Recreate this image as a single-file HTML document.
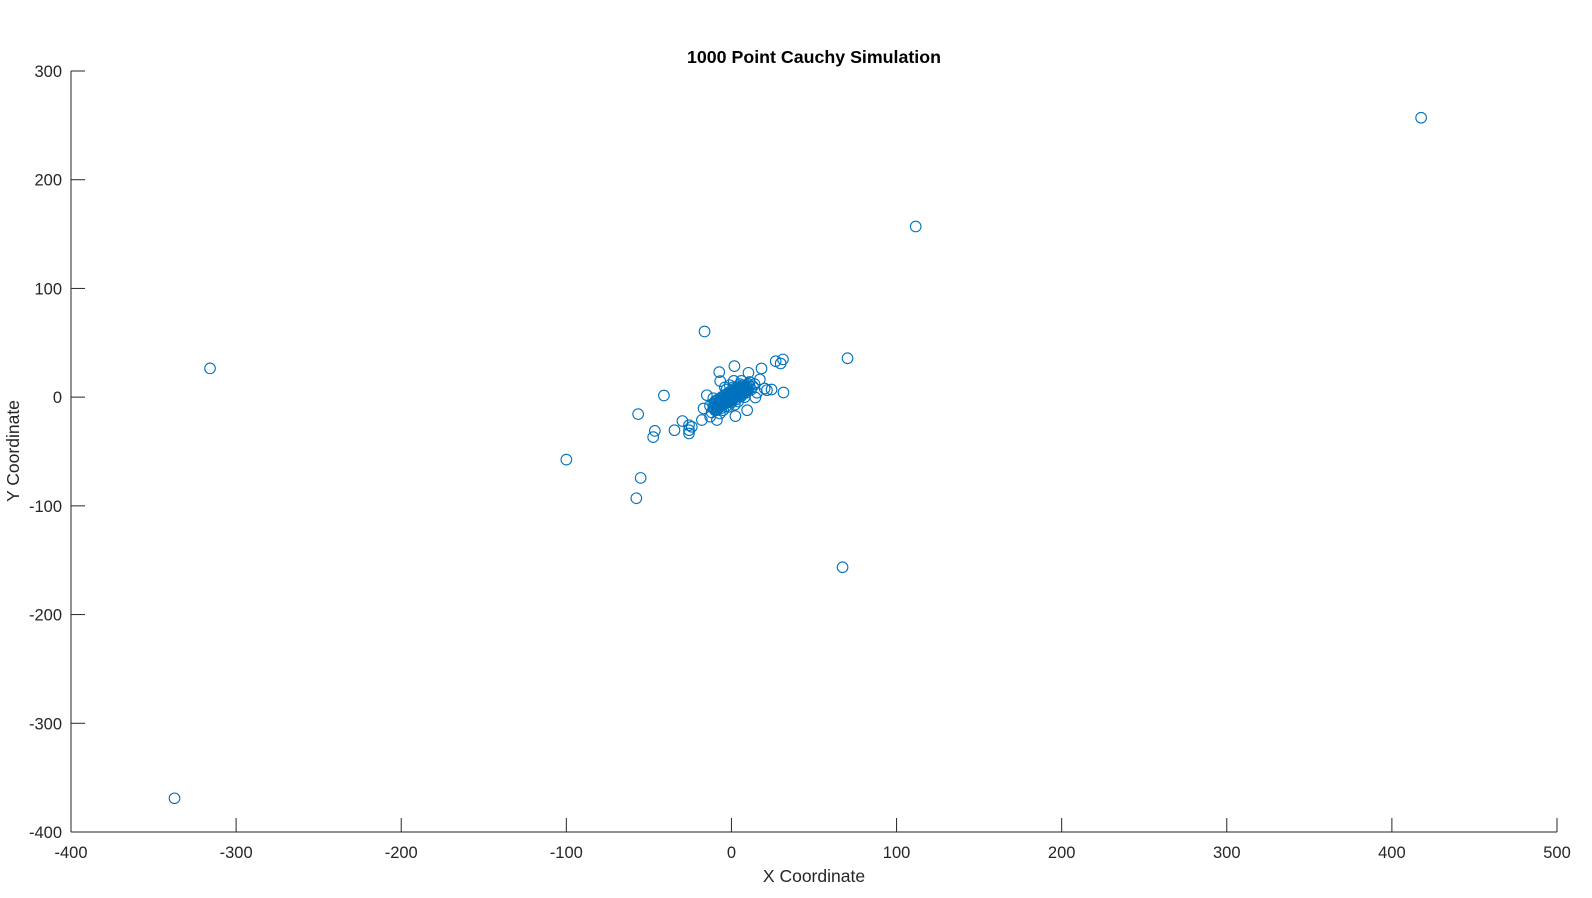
<!DOCTYPE html>
<html><head><meta charset="utf-8"><style>
html,body{margin:0;padding:0;background:#fff;}
svg{display:block;font-family:"Liberation Sans",Arial,sans-serif;}
</style></head><body>
<svg id="chart" width="1592" height="898" viewBox="0 0 1592 898">
<rect width="1592" height="898" fill="#fff"/>
<text x="814" y="63" text-anchor="middle" font-size="17.8" font-weight="bold" fill="#000">1000 Point Cauchy Simulation</text>
<text x="814" y="882" text-anchor="middle" font-size="17.5" fill="#262626">X Coordinate</text>
<text x="0" y="0" transform="translate(19,451) rotate(-90)" text-anchor="middle" font-size="17.5" fill="#262626">Y Coordinate</text>
<g id="axes"></g>
<g id="points"></g>
</svg>
<script>
const xTicks = [-400,-300,-200,-100,0,100,200,300,400,500];
const yTicks = [-400,-300,-200,-100,0,100,200,300];
const xs = [417.7,111.6,-315.8,-337.3,-100,67.3,-57.6,-55,70.3,-16.3,31.2,26.8,29.8,1.8,18.2,-7.4,10.3,-6.8,1.4,17.2,20.1,24.3,31.5,14.5,9.5,2.4,-40.9,-56.5,-46.4,-47.4,-34.5,-29.7,-25.7,-25.7,-25.7,-24,-17.9,-14.9,-16.9,-8.8,-12.9,15.5,21.5,
-11,-10,-9,-8,-7,-7,-6,-5,-5,-4,-4,-3,-3,-2,-2,-1,-1,0,0,1,1,2,2,3,3,4,4,5,5,6,6,7,7,8,8,9,10,11,-8,-6,-4,-2,0,2,4,-9,-6,-3,0,3,6,9,12,-12,-10,1,5,7,10,13,-5,-2,4,-1,-3,-11,-13,11,14,-7,2,8,-4,6,
-10,-8,-6,-4,-2,0,2,4,6,8,-9,-7,-5,-3,-1,1,3,5,7,9,-8,-6,-4,-2,0,2,4,6,-7,-5,-3,-1,1,3,5,7,-10,-8,-3,-1,1,3,5,7,9,10,-11,-9];
const ys = [257,157,26.5,-369,-57.5,-156.5,-93,-74.3,35.8,60.4,34.7,33,31,28.5,26.4,23,22.4,14.7,15,16.3,8,7,4.3,-0.3,-12,-17.5,1.5,-15.6,-31,-36.8,-30.4,-22,-25.8,-30.4,-33.4,-27.3,-21,1.8,-10.4,-21,-18,4,6.4,
-10,-8,-9,-6,-7,-4,-5,-3,-6,-2,-4,-1,-3,0,-2,1,-1,2,0,3,1,4,2,5,3,6,4,7,5,8,6,9,7,10,8,11,12,10,-2,0,2,4,6,8,10,-12,-10,-8,-5,-2,1,4,7,-14,-4,9,12,3,6,10,-12,-9,-4,11,7,-1,-8,14,12,-15,-7,0,9,15,
-6,-5,-3,-1,1,3,4,6,7,9,-11,-9,-7,-5,-3,-1,1,3,5,7,-8,-7,-4,-3,-1,1,2,4,-2,0,2,4,5,7,9,11,-12,-10,-5,-4,-2,0,2,4,6,9,-6,-3];

const L=71,R=1557,T=71,B=832;
const xMin=-400,xMax=500,yMin=-400,yMax=300;
function sx(v){return L+(v-xMin)/(xMax-xMin)*(R-L);}
function sy(v){return B-(v-yMin)/(yMax-yMin)*(B-T);}
const NS='http://www.w3.org/2000/svg';
const axes=document.getElementById('axes');
function mk(tag,attrs,parent){const e=document.createElementNS(NS,tag);for(const k in attrs)e.setAttribute(k,attrs[k]);parent.appendChild(e);return e;}
const xl=mk('line',{x1:L,y1:B,x2:R,y2:B,stroke:'#262626','stroke-width':1},axes);


const yl=mk('line',{x1:L,y1:T,x2:L,y2:B,stroke:'#262626','stroke-width':1},axes);


xTicks.forEach(v=>{
  const t=mk('line',{x1:sx(v),y1:B,x2:sx(v),y2:B-14,stroke:'#262626','stroke-width':1},axes);
  
  
  const lb=mk('text',{x:sx(v),y:B+26,'text-anchor':'middle','font-size':16.5,fill:'#262626'},axes);
  lb.textContent=v;
  
  
});
yTicks.forEach(v=>{
  const t=mk('line',{x1:L,y1:sy(v),x2:L+14,y2:sy(v),stroke:'#262626','stroke-width':1},axes);
  
  
  const lb=mk('text',{x:L-9,y:sy(v)+6,'text-anchor':'end','font-size':16.5,fill:'#262626'},axes);
  lb.textContent=v;
  
  
});
const pts=document.getElementById('points');
for(let i=0;i<xs.length;i++){
  const c=mk('circle',{cx:sx(xs[i]),cy:sy(ys[i]),r:5.3,fill:'none',stroke:'#0072BD','stroke-width':1.1},pts);
  
  
}
</script>
</body></html>
